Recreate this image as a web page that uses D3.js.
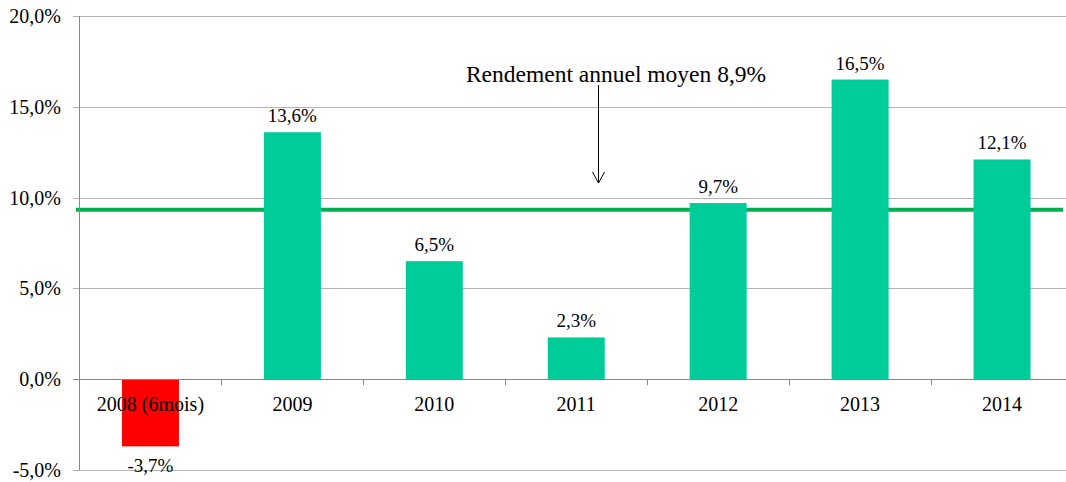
<!DOCTYPE html>
<html>
<head>
<meta charset="utf-8">
<script src="https://cdn.jsdelivr.net/npm/d3@7"></script>
<style>
  body { margin: 0; background: #fff; }
  text { font-family: "Liberation Serif", "Times New Roman", serif; fill: #000; }
</style>
</head>
<body>
<script>
// chart values
var years = ["2008 (6mois)", "2009", "2010", "2011", "2012", "2013", "2014"];
var returns = [-3.7, 13.6, 6.5, 2.3, 9.7, 16.5, 12.1];
var yTicks = [-5, 0, 5, 10, 15, 20];
var averageLine = 9.33;
var averageLabel = "Rendement annuel moyen 8,9%";

var width = 1066,
    height = 482;

var svg = d3.select("body").append("svg")
    .attr("width", width)
    .attr("height", height);

var x = d3.scaleBand()
    .domain(years)
    .range([79.5, 1073])
    .padding(0);

var y = d3.scaleLinear()
    .domain([-5, 20])
    .range([470, 16]);

// french style: comma decimal, plain hyphen for minus
var fmt = function (v) {
    return v.toFixed(1).replace(".", ",") + "%";
};

// horizontal grid lines
svg.append("g")
    .selectAll("line")
    .data(yTicks.filter(function (d) { return d !== 0; }))
    .enter()
    .append("line")
    .attr("x1", 73)
    .attr("x2", 1073)
    .attr("y1", function (d) { return Math.round(y(d)) + 0.5; })
    .attr("y2", function (d) { return Math.round(y(d)) + 0.5; })
    .attr("stroke", "#b3b3b3")
    .attr("stroke-width", 1);

// y tick labels
svg.append("g")
    .selectAll("text")
    .data(yTicks)
    .enter()
    .append("text")
    .attr("x", 61)
    .attr("y", function (d) { return y(d) + 7; })
    .attr("text-anchor", "end")
    .style("font-size", "20px")
    .text(fmt);

// average line
svg.append("line")
    .attr("x1", 76)
    .attr("x2", 1063)
    .attr("y1", y(averageLine))
    .attr("y2", y(averageLine))
    .attr("stroke", "#00b050")
    .attr("stroke-width", 4);

// bars
var barW = 57;
svg.append("g")
    .selectAll("rect")
    .data(returns)
    .enter()
    .append("rect")
    .attr("x", function (d, i) { return x(years[i]) + x.bandwidth() / 2 - barW / 2; })
    .attr("y", function (d) { return y(Math.max(0, d)); })
    .attr("width", barW)
    .attr("height", function (d) { return Math.abs(y(d) - y(0)); })
    .attr("fill", function (d) { return d < 0 ? "#ff0000" : "#00cc99"; });

// value labels
svg.append("g")
    .selectAll("text")
    .data(returns)
    .enter()
    .append("text")
    .attr("x", function (d, i) { return x(years[i]) + x.bandwidth() / 2; })
    .attr("y", function (d) { return d < 0 ? y(d) + 26 : y(d) - 10; })
    .attr("text-anchor", "middle")
    .style("font-size", "19px")
    .text(fmt);

// y axis and zero line
svg.append("line")
    .attr("x1", 79.5).attr("x2", 79.5)
    .attr("y1", 16).attr("y2", 470)
    .attr("stroke", "#868686");
svg.append("line")
    .attr("x1", 73).attr("x2", 1073)
    .attr("y1", Math.round(y(0)) + 0.5).attr("y2", Math.round(y(0)) + 0.5)
    .attr("stroke", "#868686");

// category tick marks
svg.append("g")
    .selectAll("line")
    .data(years.slice(1))
    .enter()
    .append("line")
    .attr("x1", function (d) { return Math.round(x(d)) + 0.5; })
    .attr("x2", function (d) { return Math.round(x(d)) + 0.5; })
    .attr("y1", y(0))
    .attr("y2", y(0) + 6)
    .attr("stroke", "#868686");

// category labels
svg.append("g")
    .selectAll("text")
    .data(years)
    .enter()
    .append("text")
    .attr("x", function (d) { return x(d) + x.bandwidth() / 2; })
    .attr("y", 411)
    .attr("text-anchor", "middle")
    .style("font-size", "20px")
    .text(function (d) { return d; });

// annotation
svg.append("text")
    .attr("x", 616)
    .attr("y", 82)
    .attr("text-anchor", "middle")
    .style("font-size", "23.5px")
    .text(averageLabel);

var ax = 598.5;
svg.append("path")
    .attr("d", "M" + ax + ",85V183M" + (ax - 6) + ",172L" + ax + ",183L" + (ax + 6) + ",172")
    .attr("fill", "none")
    .attr("stroke", "#000")
    .attr("stroke-width", 1);
</script>
</body>
</html>
